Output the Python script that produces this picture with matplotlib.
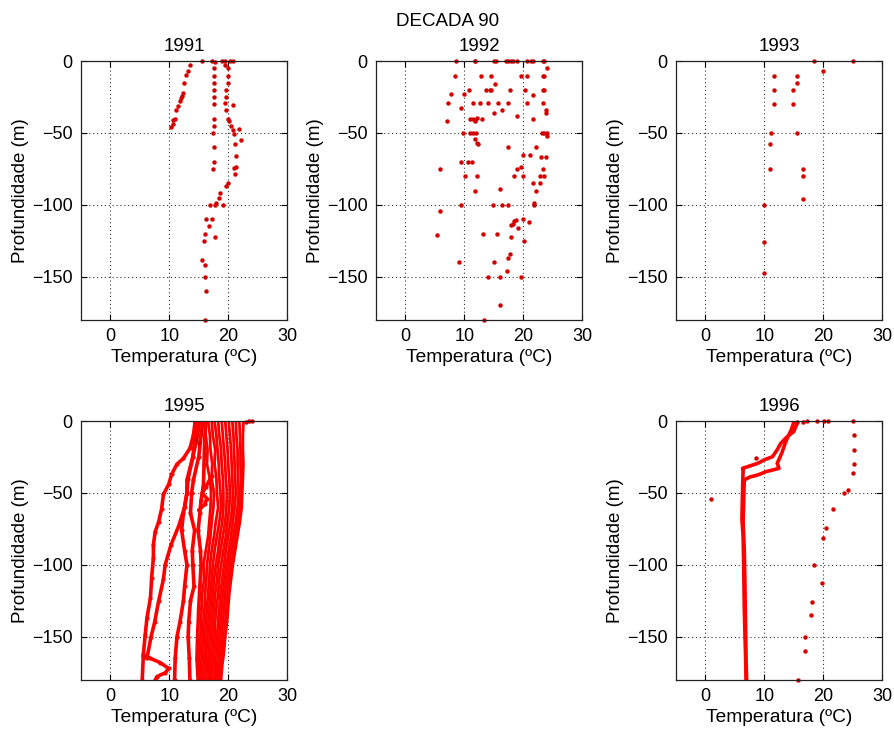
import matplotlib
matplotlib.use("Agg")
import matplotlib.pyplot as plt

plt.rcParams['font.family'] = ['Liberation Sans', 'DejaVu Sans']

# ---------------- 1991 (scattered casts) ----------------
t91 = [15.5, 17.3, 17.7, 18.9, 19.5, 20.4, 20.8,
       13.5, 13.1, 12.8, 12.5, 12.3, 12.1, 12.0, 11.9, 11.5, 11.2, 11.0, 10.7, 10.6, 10.3,
       17.6, 17.6, 17.6, 17.6, 17.6, 17.6, 17.6, 17.6, 17.5, 17.6, 17.6, 17.5,
       19.5, 19.9, 19.9, 20.0, 19.7, 19.6, 19.5, 19.7, 20.0, 20.1, 20.5, 20.8, 21.0, 21.9,
       22.1, 21.2, 21.4, 21.0, 21.4, 21.2, 20.8,
       19.9, 19.6, 18.6, 18.4, 17.9, 16.9, 17.7, 19.2, 16.2, 17.3, 16.8, 16.0, 15.9, 17.7,
       15.6, 16.0, 16.1, 16.3, 16.0]
d91 = [0, 0, -1, 0, 0, 0, 0,
       -3, -7, -10, -15, -22, -24, -26, -27.5, -31, -34, -40, -41, -44, -46,
       -5, -10.4, -15, -20, -25, -30, -40.5, -45, -50, -60, -70, -75,
       -3, -5, -10.4, -15.5, -20, -25, -29, -34, -40, -42, -45, -48, -51, -47.5,
       -55, -58, -66, -74.5, -74, -78.5, -30.5,
       -85, -87, -92, -95, -99, -100, -100, -100, -110, -110, -115, -120, -125, -122.5,
       -138, -142, -150, -159.5, -180]

# ---------------- 1992 (scattered casts) ----------------
t92 = [8.6, 11.8, 11.9, 15.0, 15.4, 17.1, 17.5, 17.9, 18.2, 18.9, 20.6, 21.3, 21.6, 23.4, 23.5,
       24.1,
       8.5, 12.9, 14.6, 19.6, 20.6, 23.4, 23.5, 15.2,
       10.8, 13.7, 14.3, 14.5, 17.8, 20.4, 23.4, 23.5, 7.8, 10.0, 21.6,
       7.3, 11.5, 12.6, 14.0, 15.7, 17.5, 20.7, 23.4, 23.8, 9.4, 16.4, 15.0, 23.9, 18.9, 21.7,
       7.0, 10.9, 11.4, 11.9, 11.8, 13.0, 12.2,
       9.8, 10.9, 11.4, 12.0, 23.2, 23.5, 24.1, 24.0, 11.9, 12.2, 12.3, 17.5, 22.1, 20.0, 21.1,
       23.1, 23.8,
       9.4, 10.6, 11.3, 5.9, 18.9, 19.7, 23.4, 10.1, 12.2, 18.5, 20.0, 22.9, 23.6, 21.6, 22.9,
       22.1, 11.9, 16.0, 21.8, 21.8,
       9.4, 14.8, 16.4, 17.5,
       5.8, 20.0, 21.0, 18.2, 18.5, 18.8, 18.0, 19.2, 5.3, 13.2, 15.5, 17.9, 20.2, 17.8, 17.4,
       9.1, 15.0, 17.2, 14.0, 16.1, 19.7, 16.0, 13.4]
d92 = [0, 0, 0, 0, 0, 0, 0, 0, 0, 0, 0, 0, 0, 0, 0,
       -5,
       -10.4, -10.4, -10.4, -10.4, -10.4, -10.4, -10.4, -16,
       -20, -20, -20, -20, -20, -20, -20, -20, -23, -23, -23.6,
       -29.4, -29.4, -29.4, -29.4, -29.4, -29.4, -29.4, -29.4, -34, -33, -34, -36, -36, -38, -40.5,
       -41.7, -40, -40, -41, -42, -40, -39.8,
       -50, -50, -50, -50, -50, -50, -50, -52, -54, -56.7, -58, -60, -60, -65, -65,
       -67, -67,
       -70.4, -70.4, -70.4, -74.8, -74.8, -73.4, -74.8, -80, -80, -80, -80, -80, -80, -85, -85,
       -90, -90, -89, -99, -100,
       -100, -100, -100, -100,
       -104, -110, -112, -113, -111, -110.5, -114, -116, -121, -120, -120, -122.5, -125, -134, -137,
       -139.6, -139.6, -145.8, -150, -150, -150, -169.4, -180]

# ---------------- 1993 (scattered casts) ----------------
t93 = [18.4, 25.0, 20.0, 11.6, 15.5, 15.5, 11.6, 14.9, 11.6, 14.9, 11.2, 15.5, 11.0, 11.0,
       16.5, 16.5, 16.5, 10.0, 10.0, 10.0]
d93 = [0, 0, -7, -10.4, -10.4, -15, -20, -20, -30, -30, -50, -50, -58, -75,
       -75, -80, -96, -100, -125.5, -147]

# ---------------- 1995 (continuous CTD profiles) ----------------
d95_a = [0, -10, -19, -26, -30, -37, -44, -51, -61, -70, -77, -86, -95, -109, -123, -137, -149, -162, -180]
t95_a = [14.4, 14.1, 13.5, 12.4, 11.3, 10.4, 9.9, 9.0, 8.7, 8.2, 7.6, 7.3, 7.3, 7.0, 6.8, 6.2, 5.9, 5.6, 5.4]
d95_loop = [-163, -165, -168, -172, -175, -177.6, -180]
t95_loop = [5.6, 6.8, 8.5, 9.9, 9.3, 7.9, 7.6]
d95_b = [0, -10, -25, -40, -50, -60, -73, -86, -100, -110, -125, -140, -150, -165]
t95_b = [14.8, 14.4, 14.0, 13.2, 13.0, 12.6, 11.6, 10.3, 9.3, 9.0, 8.2, 7.5, 6.9, 6.2]
d95_c = [0, -10, -25, -41, -50, -64, -76, -90, -100, -115, -125, -140, -150, -165, -180]
t95_c = [15.2, 14.8, 14.0, 13.0, 13.0, 12.4, 12.1, 12.6, 13.0, 12.6, 12.4, 11.8, 11.3, 11.0, 10.9]
d95_d = [0, -10, -25, -41, -50, -64, -76, -90, -100, -115, -125, -140, -150, -165, -180]
t95_d = [15.7, 15.4, 15.0, 14.1, 13.8, 13.6, 14.3, 13.9, 14.0, 14.2, 13.6, 13.3, 13.2, 13.4, 13.5]
d95_e = [0, -15, -30, -45, -55, -64, -76, -90, -100, -115, -130, -150, -165, -180]
t95_e = [16.2, 16.0, 15.9, 15.8, 15.4, 15.2, 14.9, 15.3, 15.4, 15.2, 15.0, 14.8, 14.7, 14.9]
d95_hook = [-38, -42, -46, -50, -54, -58, -62]
t95_hook = [17.2, 16.7, 16.2, 15.6, 16.4, 16.0, 15.0]
# dense offshore group (values at common depths)
d95_band = [0, -10, -20, -30, -40, -50, -60, -70, -80, -90, -100, -110, -120, -130, -140, -150, -160, -170, -180]
t95_b01 = [16.0, 16.2, 16.5, 16.4, 16.9, 17.1, 17.0, 16.8, 16.6, 16.2, 15.8, 15.9, 15.6, 15.5, 15.4, 15.3, 15.2, 15.0, 15.0]
t95_b02 = [16.6, 16.9, 17.0, 17.3, 17.2, 17.6, 17.5, 17.2, 17.0, 16.7, 16.4, 16.3, 16.1, 16.0, 15.8, 15.7, 15.6, 15.4, 15.3]
t95_b03 = [17.2, 17.4, 17.8, 17.7, 18.0, 18.1, 18.3, 17.9, 17.6, 17.2, 16.9, 16.8, 16.6, 16.4, 16.2, 16.1, 16.0, 15.8, 15.7]
t95_b04 = [17.7, 18.0, 18.2, 18.4, 18.5, 18.7, 18.8, 18.5, 18.1, 17.7, 17.4, 17.2, 17.0, 16.8, 16.6, 16.5, 16.3, 16.2, 16.1]
t95_b05 = [18.3, 18.5, 18.8, 18.9, 19.1, 19.2, 19.2, 19.0, 18.6, 18.3, 17.9, 17.6, 17.4, 17.2, 17.0, 16.9, 16.7, 16.6, 16.5]
t95_b06 = [18.9, 19.1, 19.3, 19.5, 19.6, 19.8, 19.7, 19.5, 19.1, 18.7, 18.3, 18.1, 17.8, 17.6, 17.4, 17.3, 17.1, 16.9, 16.9]
t95_b07 = [19.5, 19.7, 19.9, 20.0, 20.2, 20.3, 20.2, 19.9, 19.6, 19.2, 18.8, 18.5, 18.3, 18.0, 17.8, 17.7, 17.5, 17.3, 17.3]
t95_b08 = [20.1, 20.3, 20.5, 20.6, 20.7, 20.8, 20.7, 20.4, 20.0, 19.6, 19.3, 19.0, 18.7, 18.5, 18.3, 18.1, 17.9, 17.7, 17.7]
t95_b09 = [20.7, 20.9, 21.0, 21.1, 21.2, 21.3, 21.1, 20.8, 20.5, 20.1, 19.7, 19.4, 19.1, 18.9, 18.7, 18.5, 18.3, 18.1, 18.0]
t95_b10 = [21.3, 21.4, 21.6, 21.6, 21.7, 21.8, 21.6, 21.3, 20.9, 20.5, 20.1, 19.8, 19.5, 19.3, 19.1, 18.9, 18.7, 18.5, 18.3]
t95_b11 = [21.9, 22.0, 22.1, 22.1, 22.2, 22.2, 22.0, 21.7, 21.3, 20.9, 20.5, 20.2, 19.9, 19.7, 19.5, 19.3, 19.0, 18.8, 18.6]
t95_b12 = [22.6, 22.5, 22.5, 22.6, 22.5, 22.4, 22.3, 22.0, 21.6, 21.2, 20.8, 20.5, 20.2, 20.0, 19.8, 19.5, 19.3, 19.0, 18.8]
t95_pts = [24.0, 23.5, 23.0, 15.0, 14.5]
d95_pts = [0, 0, -1, -15, -13]

# ---------------- 1996 ----------------
t96_pts = [25.0, 25.3, 25.3, 25.2, 25.0, 24.3, 23.6, 21.7, 20.5, 20.0, 18.5, 19.8, 18.1, 17.9,
           16.9, 16.9, 15.7, 1.0, 15.6, 16.5, 17.3, 19.0, 20.1, 20.8, 8.6]
d96_pts = [0, -10, -20, -30, -36, -48, -50, -61, -74.5, -81.5, -100, -112.7, -125.5, -134.7,
           -150, -159.5, -180, -54, -1, -1, 0, 0, 0, 0, -26]
d96_up = [-1.6, -7.4, -10.9, -15.5, -20, -24.8, -27, -29.4, -31.7, -32.9, -34]
t96_up = [15.6, 15.0, 13.9, 12.8, 12.2, 11.4, 10.0, 8.9, 7.2, 6.3, 6.4]
d96_lo = [-1, -6, -11, -16, -22, -29.4, -32.9, -35.2, -37.5, -39, -41]
t96_lo = [15.0, 14.6, 14.0, 13.5, 13.0, 12.2, 12.5, 10.3, 8.9, 7.5, 6.6]
d96_deep1 = [-33, -50, -68, -80, -100, -130, -160, -180]
t96_deep1 = [6.4, 6.3, 6.2, 6.4, 6.5, 6.6, 6.8, 6.9]
d96_deep2 = [-41, -55, -70, -90, -110, -140, -165, -180]
t96_deep2 = [6.6, 6.5, 6.4, 6.6, 6.7, 6.8, 6.9, 7.0]

years = ['1991', '1992', '1993', '1995', '1996']
xticks = [0, 10, 20, 30]
yticks = [-150, -100, -50, 0]

PT = '#d40000'
LN = '#ff0000'

W, H = 895.0, 730.0
fig = plt.figure(figsize=(8.95, 7.3), dpi=100)

def make_ax(left, top, title):
    ax = fig.add_axes([left / W, 1 - (top + 259) / H, 206 / W, 259 / H])
    ax.set_xlim(-5, 30)
    ax.set_ylim(-180, 0)
    ax.set_xticks(xticks)
    ax.set_yticks(yticks)
    ax.grid(True, linestyle=(0, (1, 2.5)), color='#333333', linewidth=0.8)
    ax.tick_params(direction='in', top=True, right=True, length=4, labelsize=13, pad=6)
    for s in ax.spines.values():
        s.set_linewidth(0.9)
        s.set_color('#222222')
    ax.set_xlabel('Temperatura (ºC)', fontsize=13.8, labelpad=3)
    ax.set_ylabel('Profundidade (m)', fontsize=13.5, labelpad=2)
    ax.set_title(title, fontsize=13.5, pad=7)
    return ax

ax1 = make_ax(81, 61, years[0])
ax2 = make_ax(376, 61, years[1])
ax3 = make_ax(676, 61, years[2])
ax4 = make_ax(81, 421, years[3])
ax5 = make_ax(676, 421, years[4])

mk = dict(linestyle='none', marker='o', markersize=3.2, markeredgewidth=0, color=PT, clip_on=False)
ax1.plot(t91, d91, **mk)
ax2.plot(t92, d92, **mk)
ax3.plot(t93, d93, **mk)

lw = 2.6
for t, d in [(t95_a, d95_a), (t95_loop, d95_loop), (t95_b, d95_b), (t95_c, d95_c),
             (t95_d, d95_d), (t95_e, d95_e), (t95_hook, d95_hook)]:
    ax4.plot(t, d, color=LN, linewidth=lw, solid_capstyle='round',
             marker='o', markersize=3, markeredgewidth=0)
for t in [t95_b01, t95_b02, t95_b03, t95_b04, t95_b05, t95_b06,
          t95_b07, t95_b08, t95_b09, t95_b10, t95_b11, t95_b12]:
    ax4.plot(t, d95_band, color=LN, linewidth=2.0, solid_capstyle='round')
ax4.plot(t95_pts, d95_pts, **mk)

for t, d in [(t96_up, d96_up), (t96_lo, d96_lo), (t96_deep1, d96_deep1), (t96_deep2, d96_deep2)]:
    ax5.plot(t, d, color=LN, linewidth=lw, solid_capstyle='round')
ax5.plot(t96_pts, d96_pts, **mk)

fig.text(0.5, 1 - 22 / H, 'DECADA 90', ha='center', va='center', fontsize=13.5)

fig.savefig('out.png', dpi=100, facecolor='white')
